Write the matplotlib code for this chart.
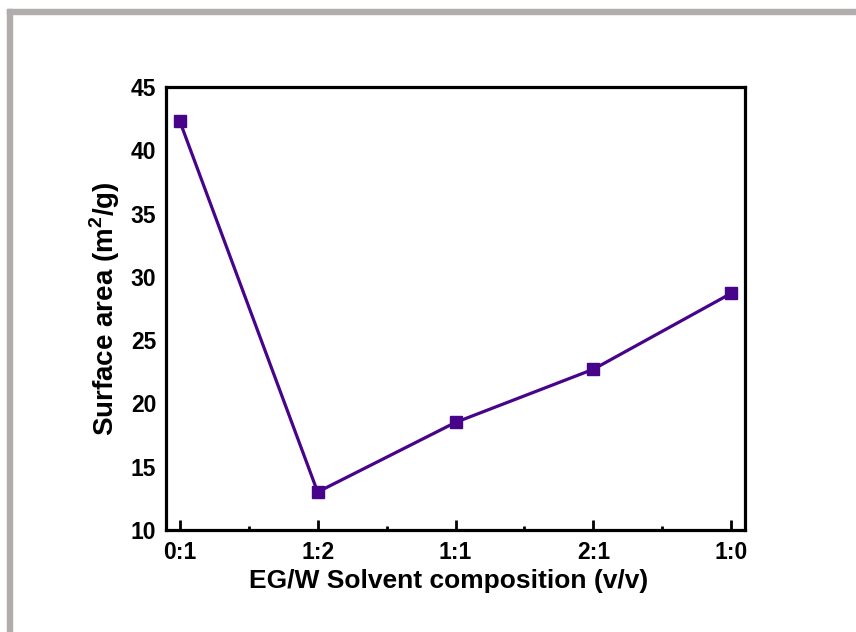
import matplotlib.pyplot as plt
from matplotlib.patches import Rectangle

plt.rcParams['font.family'] = ['Liberation Sans', 'DejaVu Sans']
plt.rcParams['font.weight'] = 'bold'
plt.rcParams['mathtext.fontset'] = 'custom'
plt.rcParams['mathtext.rm'] = 'Liberation Sans:bold'
plt.rcParams['mathtext.bf'] = 'Liberation Sans:bold'

# Data
compositions = ['0:1', '1:2', '1:1', '2:1', '1:0']
surface_area = [42.3, 13.0, 18.5, 22.7, 28.7]

fig = plt.figure(figsize=(8.56, 6.32), dpi=100)

# gray frame on left and top edges
fig.patches.append(Rectangle((7 / 856, 0), 5 / 856, 1 - 9 / 632, transform=fig.transFigure,
                             color='#b1adad', zorder=0))
fig.patches.append(Rectangle((7 / 856, 1 - 14 / 632), 1, 5 / 632, transform=fig.transFigure,
                             color='#b1adad', zorder=0))

ax = fig.add_axes([166 / 856, 1 - 530 / 632, 579 / 856, 443 / 632])

x = range(len(compositions))
ax.plot(x, surface_area, color='#47038a', linewidth=2.3, marker='s', markersize=8)

ax.set_xlim(-0.1, 4.1)
ax.set_ylim(10, 45)
ax.set_xticks(list(x))
ax.set_xticklabels(compositions)
ax.set_xticks([0.5, 1.5, 2.5, 3.5], minor=True)
ax.set_yticks(range(10, 50, 5))

for s in ax.spines.values():
    s.set_linewidth(2.3)

ax.tick_params(axis='x', which='major', direction='in', length=7, width=2, labelsize=16.5, pad=8)
ax.tick_params(axis='x', which='minor', direction='in', length=3, width=2)
ax.tick_params(axis='y', which='major', length=0, labelsize=16.5, pad=7)

ax.set_xlabel('EG/W Solvent composition (v/v)', fontsize=19, fontweight='bold')
ax.xaxis.set_label_coords(0.488, -0.089)
ax.set_ylabel('Surface area (m$^2$/g)', fontsize=20, fontweight='bold', labelpad=6)

fig.savefig('out.png', dpi=100)
